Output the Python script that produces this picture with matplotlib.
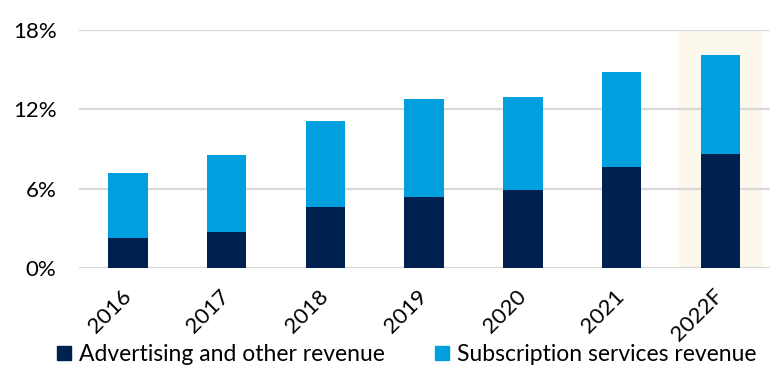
import matplotlib
matplotlib.use("Agg")
import matplotlib.pyplot as plt
from matplotlib.ticker import FuncFormatter, FixedLocator
from matplotlib.patches import Patch

categories = ["2016", "2017", "2018", "2019", "2020", "2021", "2022F"]
advertising = [2.25, 2.75, 4.6, 5.35, 5.9, 7.6, 8.65]
subscription_total = [7.2, 8.55, 11.1, 12.75, 12.95, 14.85, 16.1]
subscription = [t - a for t, a in zip(subscription_total, advertising)]
yticks = [0, 6, 12, 18]
series_names = ["Advertising and other revenue", "Subscription services revenue"]

dark = "#002050"
light = "#009FDD"
highlight = "#FDF8EC"

plt.rcParams['font.family'] = ['Lato', 'DejaVu Sans']

fig = plt.figure(figsize=(7.79, 3.70), dpi=100)
ax = fig.add_axes([0.101, 0.2757, 0.887, 0.6433])

x = list(range(len(categories)))
ax.axvspan(6 - 0.42, 6 + 0.42, ymin=0, ymax=1, color=highlight, zorder=0, lw=0)
for y in yticks:
    ax.axhline(y, color="#D9D9D9", lw=1.6, zorder=1)

ax.bar(x, advertising, width=0.4, color=dark, zorder=2)
ax.bar(x, subscription, width=0.4, bottom=advertising, color=light, zorder=2)

ax.set_xlim(-0.5, len(categories) - 0.5)
ax.set_ylim(0, 18)
ax.yaxis.set_major_locator(FixedLocator(yticks))
ax.yaxis.set_major_formatter(FuncFormatter(lambda v, p: f"{int(v)}%"))
ax.set_xticks(x)
ax.set_xticklabels(categories, rotation=45, ha="right", va="center",
                   rotation_mode="anchor")
ax.tick_params(axis="both", length=0, labelsize=16, labelcolor="black")
ax.tick_params(axis="x", pad=18)
ax.tick_params(axis="y", pad=16)
for s in ax.spines.values():
    s.set_visible(False)

handles = [Patch(color=dark, label=series_names[0]),
           Patch(color=light, label=series_names[1])]
fig.legend(handles=handles, loc="center", bbox_to_anchor=(0.522, 0.042),
           ncol=2, frameon=False, fontsize=16.5, handlelength=0.6,
           handleheight=0.6, handletextpad=0.35, columnspacing=2.2,
           borderaxespad=0)

fig.savefig("out.png", dpi=100)
